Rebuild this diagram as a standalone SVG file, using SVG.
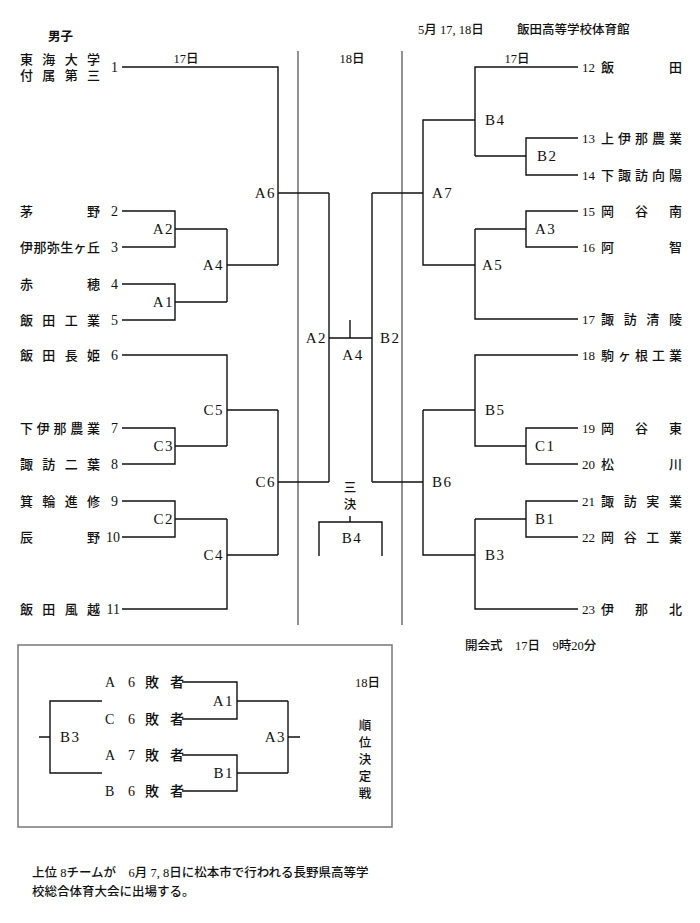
<svg xmlns="http://www.w3.org/2000/svg" width="700" height="923" viewBox="0 0 700 923">
<style>
.t{font-family:"Liberation Serif","Noto Sans CJK JP",serif;font-size:13px;fill:#111;font-weight:500;}
.n{font-family:"Liberation Serif","Noto Sans CJK JP",serif;font-size:14px;fill:#111;}
.r{font-size:13px;}
.m{font-family:"Liberation Serif","Noto Sans CJK JP",serif;font-size:15px;fill:#111;letter-spacing:1.5px;}
.h{font-family:"Liberation Serif","Noto Sans CJK JP",serif;font-size:12.5px;fill:#111;font-weight:500;}
.b{font-weight:bold;}
.ln{fill:none;stroke:#111;stroke-width:1.4;}
.gr{fill:none;stroke:#777;stroke-width:1.6;}
.end{text-anchor:end;}
.mid{text-anchor:middle;}
</style>
<rect width="700" height="923" fill="#fff"/>

<g id="header">
<text class="h b" x="48" y="41">男子</text>
<text class="h" x="418" y="34">5月 17, 18日</text>
<text class="h" x="517" y="34">飯田高等学校体育館</text>
<text class="h mid" x="186" y="63">17日</text>
<text class="h mid" x="352" y="63">18日</text>
<text class="h mid" x="517" y="63">17日</text>
<text class="h" x="465" y="650">開会式　17日　9時20分</text>
</g>

<g id="dividers">
<path class="gr" d="M298 51V625M402 51V625"/>
</g>

<g id="connectors">
<path class="ln" d="M122 67H278V265M227 265H278M278 193H329"/>
<path class="ln" d="M122 211H175V247H122M175 229H227"/>
<path class="ln" d="M122 284H175V320H122M175 302H227"/>
<path class="ln" d="M227 229V302"/>
<path class="ln" d="M122 355H227V446M227 410H278"/>
<path class="ln" d="M122 428H175V464H122M175 446H227"/>
<path class="ln" d="M122 501H175V537H122M175 519H227"/>
<path class="ln" d="M122 609H227V519M227 555H278"/>
<path class="ln" d="M278 410V555M278 482H329"/>
<path class="ln" d="M329 193V482M329 338H372M350 320V338"/>
<path class="ln" d="M372 193V482M372 193H423M372 482H423"/>
<path class="ln" d="M578 67H475V156M475 156H526M578 138H526V175H578"/>
<path class="ln" d="M475 120H423V265H475"/>
<path class="ln" d="M475 229V319H578M578 211H526V247H578M526 229H475"/>
<path class="ln" d="M578 355H475V446H526M578 428H526V464H578M475 410H423"/>
<path class="ln" d="M423 410V555H475"/>
<path class="ln" d="M475 519V609H578M578 501H526V537H578M526 519H475"/>
<path class="ln" d="M319 556V522H382V556M350 516V522"/>
</g>

<g id="team-1"><text class="t" x="20 42.3 64.7 87" y="64">東海大学</text><text class="t" x="20 42.3 64.7 87" y="80">付属第三</text><text class="n end" x="118" y="72">1</text></g>
<g id="team-2"><text class="t" x="20 87" y="216">茅野</text><text class="n end" x="118" y="216">2</text></g>
<g id="team-3"><text class="t" x="20 33.4 46.8 60.2 73.6 87" y="252">伊那弥生ヶ丘</text><text class="n end" x="118" y="252">3</text></g>
<g id="team-4"><text class="t" x="20 87" y="289">赤穂</text><text class="n end" x="118" y="289">4</text></g>
<g id="team-5"><text class="t" x="20 42.3 64.7 87" y="325">飯田工業</text><text class="n end" x="118" y="325">5</text></g>
<g id="team-6"><text class="t" x="20 42.3 64.7 87" y="360">飯田長姫</text><text class="n end" x="118" y="360">6</text></g>
<g id="team-7"><text class="t" x="20 36.75 53.5 70.25 87" y="433">下伊那農業</text><text class="n end" x="118" y="433">7</text></g>
<g id="team-8"><text class="t" x="20 42.3 64.7 87" y="469">諏訪二葉</text><text class="n end" x="118" y="469">8</text></g>
<g id="team-9"><text class="t" x="20 42.3 64.7 87" y="506">箕輪進修</text><text class="n end" x="118" y="506">9</text></g>
<g id="team-10"><text class="t" x="20 87" y="542">辰野</text><text class="n end" x="120" y="542">10</text></g>
<g id="team-11"><text class="t" x="20 42.3 64.7 87" y="614">飯田風越</text><text class="n end" x="120" y="614">11</text></g>

<g id="team-12"><text class="n r" x="582" y="72">12</text><text class="t" x="601 669" y="72">飯田</text></g>
<g id="team-13"><text class="n r" x="582" y="143">13</text><text class="t" x="601 618 635 652 669" y="143">上伊那農業</text></g>
<g id="team-14"><text class="n r" x="582" y="180">14</text><text class="t" x="601 618 635 652 669" y="180">下諏訪向陽</text></g>
<g id="team-15"><text class="n r" x="582" y="216">15</text><text class="t" x="601 635 669" y="216">岡谷南</text></g>
<g id="team-16"><text class="n r" x="582" y="252">16</text><text class="t" x="601 669" y="252">阿智</text></g>
<g id="team-17"><text class="n r" x="582" y="324">17</text><text class="t" x="601 623.7 646.3 669" y="324">諏訪清陵</text></g>
<g id="team-18"><text class="n r" x="582" y="360">18</text><text class="t" x="601 618 635 652 669" y="360">駒ヶ根工業</text></g>
<g id="team-19"><text class="n r" x="582" y="433">19</text><text class="t" x="601 635 669" y="433">岡谷東</text></g>
<g id="team-20"><text class="n r" x="582" y="469">20</text><text class="t" x="601 669" y="469">松川</text></g>
<g id="team-21"><text class="n r" x="582" y="506">21</text><text class="t" x="601 623.7 646.3 669" y="506">諏訪実業</text></g>
<g id="team-22"><text class="n r" x="582" y="542">22</text><text class="t" x="601 623.7 646.3 669" y="542">岡谷工業</text></g>
<g id="team-23"><text class="n r" x="582" y="614">23</text><text class="t" x="601 635 669" y="614">伊那北</text></g>

<g id="match-left">
<text class="m end" x="174" y="234">A2</text>
<text class="m end" x="224" y="270">A4</text>
<text class="m end" x="174" y="307">A1</text>
<text class="m end" x="276" y="198">A6</text>
<text class="m end" x="224" y="415">C5</text>
<text class="m end" x="174" y="451">C3</text>
<text class="m end" x="276" y="487">C6</text>
<text class="m end" x="174" y="524">C2</text>
<text class="m end" x="224" y="560">C4</text>
</g>
<g id="match-center">
<text class="m end" x="327" y="343">A2</text>
<text class="m mid" x="353" y="360">A4</text>
<text class="m" x="380" y="343">B2</text>
<text class="h mid" x="350" y="492">三</text>
<text class="h mid" x="350" y="509">決</text>
<text class="m mid" x="352" y="543">B4</text>
</g>
<g id="match-right">
<text class="m" x="485" y="125">B4</text>
<text class="m" x="537" y="161">B2</text>
<text class="m" x="432" y="198">A7</text>
<text class="m" x="535" y="234">A3</text>
<text class="m" x="482" y="270">A5</text>
<text class="m" x="485" y="415">B5</text>
<text class="m" x="535" y="451">C1</text>
<text class="m" x="432" y="487">B6</text>
<text class="m" x="535" y="524">B1</text>
<text class="m" x="485" y="560">B3</text>
</g>

<g id="placement-box">
<rect x="18" y="645" width="374" height="182" fill="none" stroke="#777" stroke-width="1.5"/>
<path class="ln" d="M182 682H237V719H182M237 701H288"/>
<path class="ln" d="M182 755H237V791H182M237 773H288"/>
<path class="ln" d="M288 701V773M288 737H300"/>
<path class="ln" d="M102 701H50V773H102M39 737H50"/>
<text class="t" x="105 128 145 170" y="687" style="font-size:14px">A6敗者</text>
<text class="t" x="105 128 145 170" y="724" style="font-size:14px">C6敗者</text>
<text class="t" x="105 128 145 170" y="760" style="font-size:14px">A7敗者</text>
<text class="t" x="105 128 145 170" y="796" style="font-size:14px">B6敗者</text>
<text class="m end" x="234" y="706">A1</text>
<text class="m end" x="234" y="778">B1</text>
<text class="m end" x="286" y="742">A3</text>
<text class="m" x="60" y="742">B3</text>
<text class="h" x="355" y="687">18日</text>
<text class="h mid" x="365" y="730">順</text>
<text class="h mid" x="365" y="747">位</text>
<text class="h mid" x="365" y="764">決</text>
<text class="h mid" x="365" y="781">定</text>
<text class="h mid" x="365" y="798">戦</text>
</g>

<g id="footer">
<text class="h" x="32" y="877">上位 8チームが　6月 7, 8日に松本市で行われる長野県高等学</text>
<text class="h" x="32" y="896">校総合体育大会に出場する。</text>
</g>
</svg>
